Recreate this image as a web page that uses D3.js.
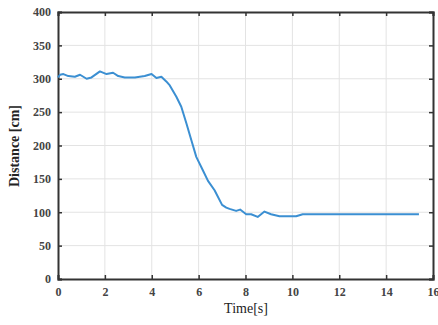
<!DOCTYPE html>
<html>
<head>
<meta charset="utf-8">
<script src="https://cdn.jsdelivr.net/npm/d3@7"></script>
<style>
  body { margin: 0; background: #fff; }
  svg text { font-family: "Liberation Serif", "DejaVu Serif", serif; }
</style>
</head>
<body>
<svg width="438" height="325"></svg>
<script>
// time [s] and distance [cm]
var time = [0, 0.09, 0.23, 0.44, 0.72, 0.94, 1.22, 1.43, 1.79, 2.07, 2.35, 2.57, 2.85, 3.28, 3.7, 3.99,
            4.2, 4.41, 4.62, 4.77, 5.05, 5.26, 5.48, 5.69, 5.9, 6.18, 6.4, 6.68, 7.0, 7.18, 7.32, 7.6,
            7.77, 8.03, 8.24, 8.52, 8.81, 9.09, 9.45, 10.16, 10.44, 11.6, 15.4];
var distance = [302, 306, 307, 304, 303, 306, 300, 302, 311, 307, 309, 304, 302, 302, 304, 307,
                301, 303, 296, 290, 273, 258, 233, 208, 183, 163, 147, 133, 111, 107, 105, 102,
                104, 97, 97, 93, 101, 97, 94, 94, 97, 97, 97];
var xTicks = [0, 2, 4, 6, 8, 10, 12, 14, 16];
var yTicks = [0, 50, 100, 150, 200, 250, 300, 350, 400];

var svg = d3.select("svg");
var plotL = 58, plotR = 433, plotT = 12, plotB = 279; // plot box edges

var x = d3.scaleLinear().domain([0, 16]).range([plotL, plotR]);
var y = d3.scaleLinear().domain([0, 400]).range([plotB, plotT]);

// grid
var grid = svg.append("g").attr("stroke", "#e3e3e3").attr("stroke-width", 1);
grid.selectAll(".gx").data(xTicks.slice(1, -1)).enter().append("line")
    .attr("x1", function(d) { return x(d); }).attr("x2", function(d) { return x(d); })
    .attr("y1", plotT).attr("y2", plotB);
grid.selectAll(".gy").data(yTicks.slice(1, -1)).enter().append("line")
    .attr("y1", function(d) { return y(d); }).attr("y2", function(d) { return y(d); })
    .attr("x1", plotL).attr("x2", plotR);

// axes, ticks pointing inward like matlab
var xAxis = d3.axisBottom(x).tickValues(xTicks).tickSize(-4).tickPadding(8).tickFormat(d3.format("d"));
var yAxis = d3.axisLeft(y).tickValues(yTicks).tickSize(-4).tickPadding(7).tickFormat(d3.format("d"));

var gx = svg.append("g").attr("transform", "translate(0," + plotB + ")").call(xAxis);
var gy = svg.append("g").attr("transform", "translate(" + plotL + ",0)").call(yAxis);
var gxt = svg.append("g").attr("transform", "translate(0," + plotT + ")")
    .call(d3.axisTop(x).tickValues(xTicks).tickSize(-4).tickFormat(""));
var gyr = svg.append("g").attr("transform", "translate(" + plotR + ",0)")
    .call(d3.axisRight(y).tickValues(yTicks).tickSize(-4).tickFormat(""));

[gx, gy, gxt, gyr].forEach(function(g) {
  g.select(".domain").attr("stroke", "#333").attr("stroke-width", 2);
  g.selectAll(".tick line").attr("stroke", "#333").attr("stroke-width", 1.5);
  g.selectAll(".tick text").attr("fill", "#444").style("font-size", "12px")
    .style("font-family", "'Liberation Serif', serif").style("font-weight", "bold");
});

// data line
var line = d3.line()
    .x(function(d, i) { return x(time[i]); })
    .y(function(d) { return y(d); });

svg.append("path")
    .datum(distance)
    .attr("d", line)
    .attr("fill", "none")
    .attr("stroke", "#3b8fd2")
    .attr("stroke-width", 2)
    .attr("stroke-linejoin", "round");

// labels
svg.append("text")
    .attr("x", 246).attr("y", 313)
    .attr("text-anchor", "middle")
    .style("font-size", "14px").attr("fill", "#222")
    .text("Time[s]");

svg.append("text")
    .attr("transform", "translate(19,146) rotate(-90)")
    .attr("text-anchor", "middle")
    .style("font-size", "14px").style("font-weight", "bold").attr("fill", "#222")
    .text("Distance [cm]");
</script>
</body>
</html>
